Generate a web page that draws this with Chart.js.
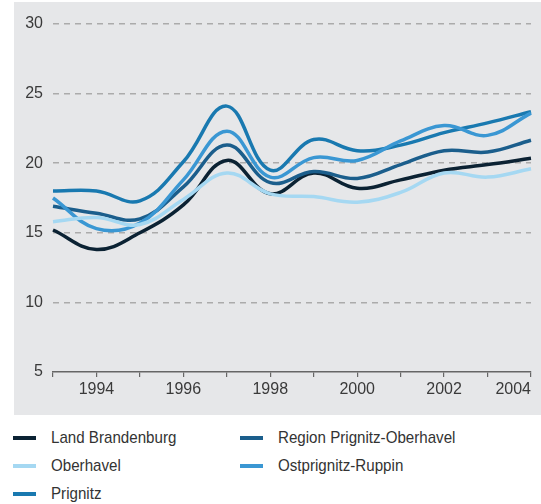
<!DOCTYPE html>
<html>
<head>
<meta charset="utf-8">
<script src="https://cdn.jsdelivr.net/npm/chart.js@4/dist/chart.umd.min.js"></script>
<style>
    body { margin: 0; background: #fff; }
    #wrap { position: relative; width: 541px; height: 504px; overflow: hidden; }
    #chart { position: absolute; left: 0; top: 0; }
    .lg { position: absolute; font: 17px 'Liberation Sans', Arial, sans-serif; color: #333; line-height: 20px; white-space: nowrap; transform: scaleX(0.89); transform-origin: 0 50%; }
    .sw { position: absolute; width: 23px; height: 4px; }
</style>
</head>
<body>
<div id="wrap">
    <canvas id="chart" width="541" height="416"></canvas>
    <div id="legend"></div>
</div>
<script>
// years on the x axis
var years = [1993, 1994, 1995, 1996, 1997, 1998, 1999, 2000, 2001, 2002, 2003, 2004];
var yTicks = [5, 10, 15, 20, 25, 30];

// series values
var landBrandenburg = [15.2, 13.8, 15.0, 17.0, 20.2, 17.8, 19.3, 18.2, 18.8, 19.5, 19.9, 20.35];
var regionPrignitzOberhavel = [16.9, 16.4, 16.0, 18.3, 21.3, 18.6, 19.4, 18.9, 19.9, 20.9, 20.8, 21.65];
var oberhavel = [15.8, 16.1, 15.6, 17.4, 19.3, 17.8, 17.6, 17.2, 17.9, 19.3, 19.0, 19.6];
var ostprignitzRuppin = [17.5, 15.3, 15.7, 18.8, 22.3, 19.0, 20.4, 20.2, 21.6, 22.7, 22.0, 23.6];
var prignitz = [18.0, 18.0, 17.3, 20.1, 24.1, 19.5, 21.7, 20.9, 21.3, 22.2, 22.9, 23.7];

var seriesNames = ['Land Brandenburg', 'Region Prignitz-Oberhavel', 'Oberhavel', 'Ostprignitz-Ruppin', 'Prignitz'];
var seriesData = [landBrandenburg, regionPrignitzOberhavel, oberhavel, ostprignitzRuppin, prignitz];
var seriesColors = ['#0b2233', '#1b5e8c', '#a5d8f2', '#3a97d3', '#1979b0'];

var fontFamily = "'Liberation Sans', Arial, sans-serif";

// grey panel behind the plot
var panelBg = {
    id: 'panelBg',
    beforeDraw: function(chart) {
        var ctx = chart.ctx;
        ctx.save();
        ctx.fillStyle = '#e6e7e9';
        ctx.fillRect(14, 2, 527, 413);
        ctx.restore();
    }
};

var datasets = [];
// draw light ones first, dark ones on top
var drawOrder = [2, 3, 1, 0, 4];
drawOrder.forEach(function(i) {
    datasets.push({
        label: seriesNames[i],
        data: seriesData[i],
        borderColor: seriesColors[i],
        borderWidth: 3.5,
        pointRadius: 0,
        tension: 0.4,
        fill: false
    });
});

var ctx = document.getElementById('chart');
var chart = new Chart(ctx, {
    type: 'line',
    data: {
        labels: years,
        datasets: datasets
    },
    options: {
        responsive: false,
        animation: false,
        layout: { padding: { top: 24, right: 10, left: 0, bottom: 0 } },
        plugins: {
            legend: { display: false },
            tooltip: { enabled: false }
        },
        scales: {
            x: {
                offset: false,
                grid: { display: true, drawOnChartArea: false, drawTicks: true, tickLength: 5, color: '#666', lineWidth: 1.2 },
                border: { display: true, color: '#666', width: 1.5 },
                ticks: {
                    autoSkip: false,
                    maxRotation: 0,
                    align: 'inner',
                    padding: 3,
                    color: '#3a3a3a',
                    font: { family: fontFamily, size: 16 },
                    callback: function(value) {
                        var yr = this.getLabelForValue(value);
                        return yr % 2 === 0 ? String(yr) : '';
                    }
                },
                afterFit: function(scale) { scale.height = 44; }
            },
            y: {
                min: yTicks[0],
                max: yTicks[yTicks.length - 1],
                grid: {
                    drawTicks: false,
                    lineWidth: 1.5,
                    color: function(c) { return c.tick && c.tick.value === yTicks[0] ? 'rgba(0,0,0,0)' : '#ababab'; }
                },
                border: { display: false, dash: [6, 5] },
                afterBuildTicks: function(scale) {
                    scale.ticks = yTicks.map(function(v) { return { value: v }; });
                },
                ticks: {
                    padding: 10,
                    color: '#3a3a3a',
                    font: { family: fontFamily, size: 16 }
                },
                afterFit: function(scale) { scale.width = 53; }
            }
        }
    },
    plugins: [panelBg]
});

// legend below the panel, two columns
var legendPos = [
    { left: 13, top: 438 },
    { left: 240, top: 438 },
    { left: 13, top: 466 },
    { left: 240, top: 466 },
    { left: 13, top: 494 }
];
var lg = document.getElementById('legend');
seriesNames.forEach(function(name, i) {
    var p = legendPos[i];
    var sw = document.createElement('div');
    sw.className = 'sw';
    sw.style.left = p.left + 'px';
    sw.style.top = (p.top - 2) + 'px';
    sw.style.background = seriesColors[i];
    lg.appendChild(sw);
    var tx = document.createElement('div');
    tx.className = 'lg';
    tx.style.left = (p.left + 38) + 'px';
    tx.style.top = (p.top - 10) + 'px';
    tx.textContent = name;
    lg.appendChild(tx);
});
</script>
</body>
</html>
